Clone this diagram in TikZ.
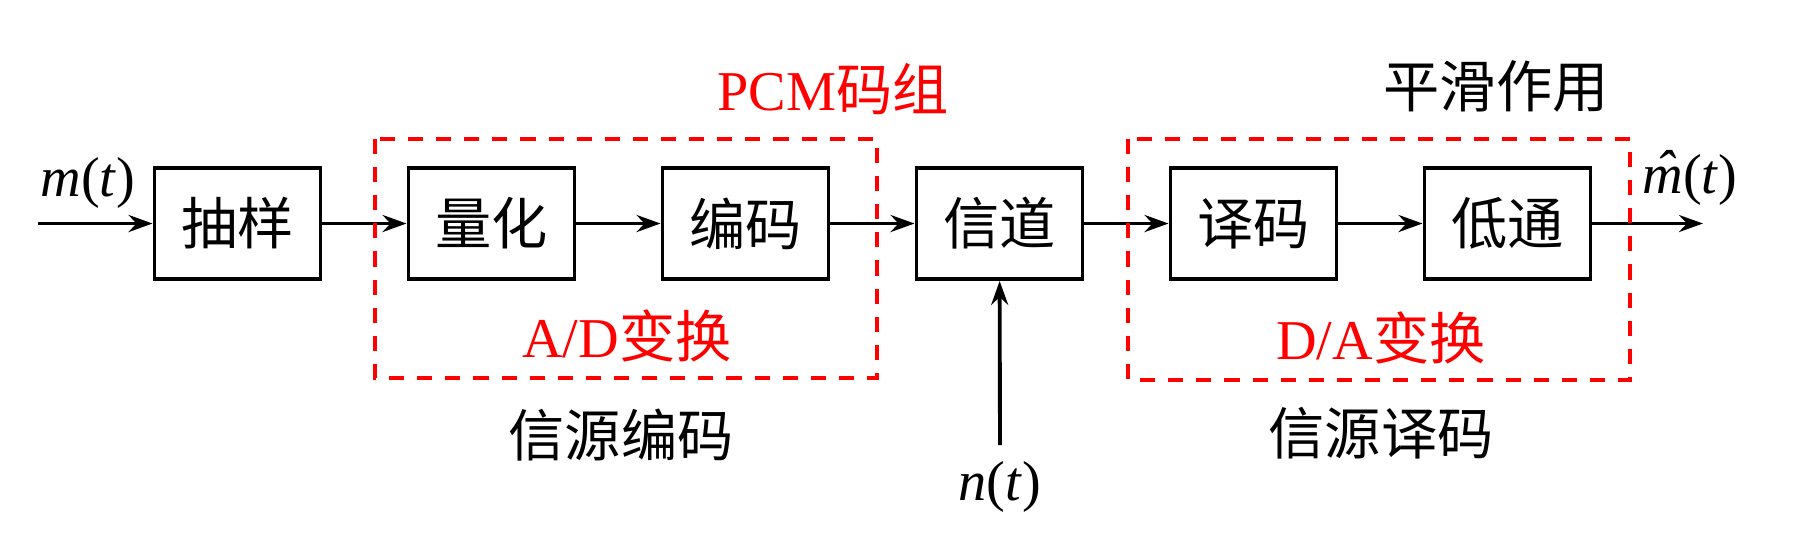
\documentclass[tikz,border=0pt]{standalone}
\usepackage{fontspec}
\setmainfont{Liberation Serif}
\newfontfamily\cjk{Noto Sans CJK SC}
\usetikzlibrary{arrows.meta}
\tikzstyle{rec} = [rectangle, minimum width=1.66cm, minimum height=1.11cm, inner sep=0pt, text centered, draw=black, line width=1.1pt, font=\fontsize{16}{19}\selectfont\cjk]
\tikzstyle{arrow} = [line width=1.1pt, -{Stealth[length=2.4mm, width=1.7mm, inset=0.8mm]}]
\tikzstyle{dashbox} = [draw=red, line width=1.15pt, dash pattern=on 4.3pt off 3.7pt]
\tikzstyle{lbl} = [inner sep=0pt, font=\fontsize{16}{19}\selectfont]
\tikzstyle{lbl_red} = [lbl, text=red]
\newcommand{\sig}[1]{\textit{#1}(\textit{t})}
\newcommand{\hatm}{\textit{\makebox[0pt][l]{\makebox[0.78em]{\raisebox{0.06em}{\char"02C6}}}m}}

\begin{document}
\begin{tikzpicture}[node distance=2.54cm]
		\useasboundingbox (0,0) rectangle (17.97,-5.5);
		\node (sample) [rec] at (2.375,-2.235) {抽样};
		\node (quant) [rec, right of=sample] {量化};
		\node (encode) [rec, right of=quant] {编码};
		\node (channel) [rec, right of=encode] {信道};
		\node (decode) [rec, right of=channel] {译码};
		\node (lowpass) [rec, right of=decode] {低通};
		\coordinate (in) at (0.38,-2.235);
		\coordinate (out) at (17.03,-2.235);
		\coordinate (noise) at (10.0,-4.45);
		\draw [arrow] (in) -- (sample);
		\draw [arrow] (sample) -- (quant);
		\draw [arrow] (quant) -- (encode);
		\draw [arrow] (encode) -- (channel);
		\draw [arrow] (channel) -- (decode);
		\draw [arrow] (decode) -- (lowpass);
		\draw [arrow] (lowpass) -- (out);
		\draw [arrow] (noise) -- (channel);
		\draw [dashbox] (3.75,-1.39) rectangle (8.77,-3.78);
		\draw [dashbox] (11.28,-1.39) rectangle (16.30,-3.80);
		\node (in_lbl) [lbl] at (0.88,-1.83) {\sig{m}};
		\node (out_lbl) [lbl] at (16.9,-1.78) {\hatm(\textit{t})};
		\node (noise_lbl) [lbl] at (10.0,-4.87) {\sig{n}};
		\node (pcm) [lbl_red] at (8.33,-0.89) {PCM{\cjk 码组}};
		\node (smooth) [lbl] at (14.96,-0.86) {\cjk 平滑作用};
		\node (ad) [lbl_red] at (6.27,-3.36) {A/D{\cjk 变换}};
		\node (da) [lbl_red] at (13.81,-3.38) {D/A{\cjk 变换}};
		\node (src_enc) [lbl] at (6.21,-4.35) {\cjk 信源编码};
		\node (src_dec) [lbl] at (13.81,-4.33) {\cjk 信源译码};
\end{tikzpicture}
\end{document}
